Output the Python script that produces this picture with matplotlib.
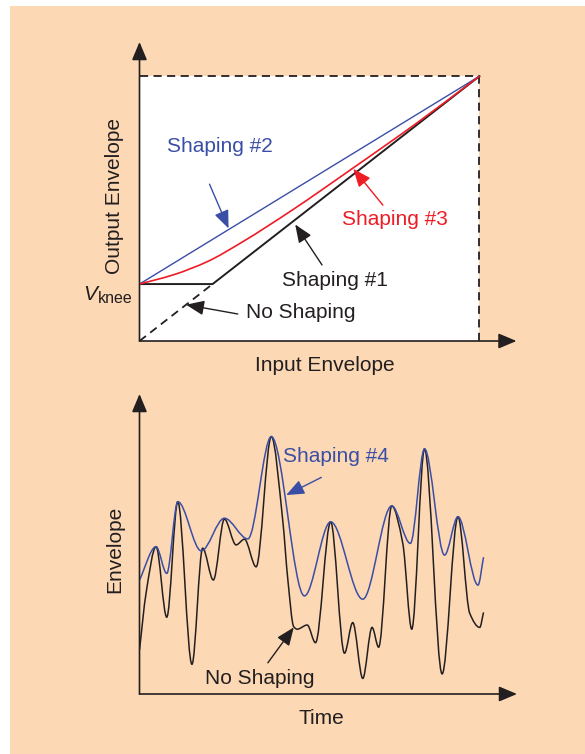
import numpy as np
import matplotlib.pyplot as plt
from matplotlib.path import Path
from matplotlib.patches import PathPatch, Rectangle

plt.rcParams['font.family'] = ['Liberation Sans', 'DejaVu Sans']

# --- top panel: transfer curves (input, output), normalized ---
v_knee = 0.215
red_x = [0.0, 0.1, 0.2, 0.3, 0.45, 0.627, 0.82, 1.0]
red_y = [0.215, 0.250, 0.300, 0.372, 0.495, 0.652, 0.827, 1.0]

# --- bottom panel: envelope vs time ---
blue_t = [0.0, 0.48, 0.79, 1.11, 1.79, 2.46, 3.14, 3.82, 4.78, 5.54, 6.47,
          7.31, 7.85, 8.26, 8.84, 9.23, 9.81, 9.97]
blue_env = [0.380, 0.491, 0.402, 0.641, 0.477, 0.586, 0.517, 0.858, 0.327,
            0.574, 0.316, 0.627, 0.502, 0.817, 0.463, 0.591, 0.363, 0.456]

black_t = [0.0, 0.19, 0.48, 0.79, 1.11, 1.52, 1.83, 2.14, 2.46, 2.80, 3.04,
           3.38, 3.82, 4.15, 4.30, 4.47, 4.57, 4.86, 5.10, 5.54, 5.94, 6.18,
           6.47, 6.74, 6.93, 7.31, 7.63, 7.89, 8.26, 8.77, 9.23, 9.57, 9.86,
           9.97]
black_env = [0.147, 0.336, 0.491, 0.256, 0.641, 0.099, 0.486, 0.380, 0.583,
             0.497, 0.516, 0.424, 0.858, 0.580, 0.380, 0.224, 0.216, 0.230,
             0.171, 0.574, 0.136, 0.238, 0.052, 0.222, 0.156, 0.627, 0.502,
             0.216, 0.817, 0.067, 0.591, 0.269, 0.222, 0.272]

PEACH = '#FCD8B4'
BLUE = '#3A4EA6'
RED = '#EE1C25'
INK = '#231F20'


def smooth_path(x, y):
    # cubic bezier through the points, flat tangents at extrema
    x = np.asarray(x, float)
    y = np.asarray(y, float)
    h = np.diff(x)
    d = np.diff(y) / h
    m = np.zeros_like(y)
    m[0], m[-1] = d[0], d[-1]
    for i in range(1, len(y) - 1):
        if d[i - 1] * d[i] > 0:
            w1 = 2 * h[i] + h[i - 1]
            w2 = h[i] + 2 * h[i - 1]
            m[i] = (w1 + w2) / (w1 / d[i - 1] + w2 / d[i])
    verts = [(x[0], y[0])]
    codes = [Path.MOVETO]
    for i in range(len(x) - 1):
        verts += [(x[i] + h[i] / 3, y[i] + m[i] * h[i] / 3),
                  (x[i + 1] - h[i] / 3, y[i + 1] - m[i + 1] * h[i] / 3),
                  (x[i + 1], y[i + 1])]
        codes += [Path.CURVE4] * 3
    return Path(verts, codes)


def axis_arrow(ax, xy, xytext):
    ax.annotate('', xy=xy, xytext=xytext, annotation_clip=False,
                arrowprops=dict(arrowstyle='-|>,head_length=1.0,head_width=0.42',
                                mutation_scale=11, lw=1.2, color=INK,
                                shrinkA=0, shrinkB=0))


def label_arrow(ax, text, xytext, tail, head, color, ha='center'):
    ax.text(*xytext, text, color=color, fontsize=15, ha=ha, va='center')
    ax.annotate('', xy=head, xytext=tail, annotation_clip=False,
                arrowprops=dict(arrowstyle='-|>,head_length=1.1,head_width=0.45',
                                mutation_scale=10, lw=1.0, color=color,
                                shrinkA=0, shrinkB=0))


fig = plt.figure(figsize=(5.85, 7.54), dpi=100)
fig.patches.append(Rectangle((10 / 585, 0), 1, 748 / 754, transform=fig.transFigure,
                             facecolor=PEACH, edgecolor='none', zorder=-10))

# ---------------- top panel ----------------
ax1 = fig.add_axes([139.5 / 585, 413 / 754, 377 / 585, 299 / 754])
ax1.set_xlim(0, 1.109)
ax1.set_ylim(0, 1.129)
ax1.axis('off')

ax1.add_patch(Rectangle((0, 0), 1, 1, facecolor='white', edgecolor='none', zorder=0))
ax1.plot([0, 1, 1], [1, 1, 0], color=INK, lw=1.3, ls=(0, (4.5, 3)), zorder=1)
ax1.plot([0, v_knee], [0, v_knee], color=INK, lw=1.3, ls=(0, (4.5, 3)), zorder=2)
ax1.plot([0, v_knee, 1], [v_knee, v_knee, 1], color=INK, lw=1.4, zorder=3)
ax1.plot([0, 1], [v_knee, 1], color=BLUE, lw=1.0, zorder=3)
ax1.add_patch(PathPatch(smooth_path(red_x, red_y), facecolor='none',
                        edgecolor=RED, lw=1.2, zorder=4))
axis_arrow(ax1, (1.109, 0), (0, 0))
axis_arrow(ax1, (0, 1.129), (0, 0))

label_arrow(ax1, 'Shaping #2', (0.235, 0.736), (0.206, 0.592), (0.262, 0.425), BLUE)
label_arrow(ax1, 'Shaping #3', (0.75, 0.460), (0.716, 0.513), (0.629, 0.650), RED)
label_arrow(ax1, 'Shaping #1', (0.576, 0.230), (0.537, 0.287), (0.458, 0.440), INK)
label_arrow(ax1, 'No Shaping', (0.474, 0.106), (0.289, 0.102), (0.137, 0.137), INK)

ax1.text(-0.074, 0.547, 'Output Envelope', rotation=90, fontsize=15,
         ha='center', va='center', color=INK)
ax1.text(-0.165, 0.155, 'V', fontsize=15, style='italic', ha='left',
         va='baseline', color=INK)
ax1.text(-0.121, 0.143, 'knee', fontsize=11.5, ha='left', va='baseline', color=INK)
ax1.text(0.544, -0.094, 'Input Envelope', fontsize=15, ha='center',
         va='center', color=INK)

# ---------------- bottom panel ----------------
ax2 = fig.add_axes([139.5 / 585, 60 / 754, 377.5 / 585, 300 / 754])
ax2.set_xlim(0, 10.94)
ax2.set_ylim(0, 1.0)
ax2.axis('off')

ax2.add_patch(PathPatch(smooth_path(blue_t, blue_env), facecolor='none',
                        edgecolor=BLUE, lw=1.1, zorder=3))
ax2.add_patch(PathPatch(smooth_path(black_t, black_env), facecolor='none',
                        edgecolor=INK, lw=1.1, zorder=2))
axis_arrow(ax2, (10.94, 0), (0, 0))
axis_arrow(ax2, (0, 1.0), (0, 0))

label_arrow(ax2, 'Shaping #4', (5.68, 0.793), (5.27, 0.722), (4.25, 0.663), BLUE)
label_arrow(ax2, 'No Shaping', (3.48, 0.053), (3.72, 0.104), (4.47, 0.222), INK)

ax2.text(-0.72, 0.483, 'Envelope', rotation=90, fontsize=15, ha='center',
         va='center', color=INK)
ax2.text(5.27, -0.08, 'Time', fontsize=15, ha='center', va='center', color=INK)

fig.savefig('out.png', dpi=100)
